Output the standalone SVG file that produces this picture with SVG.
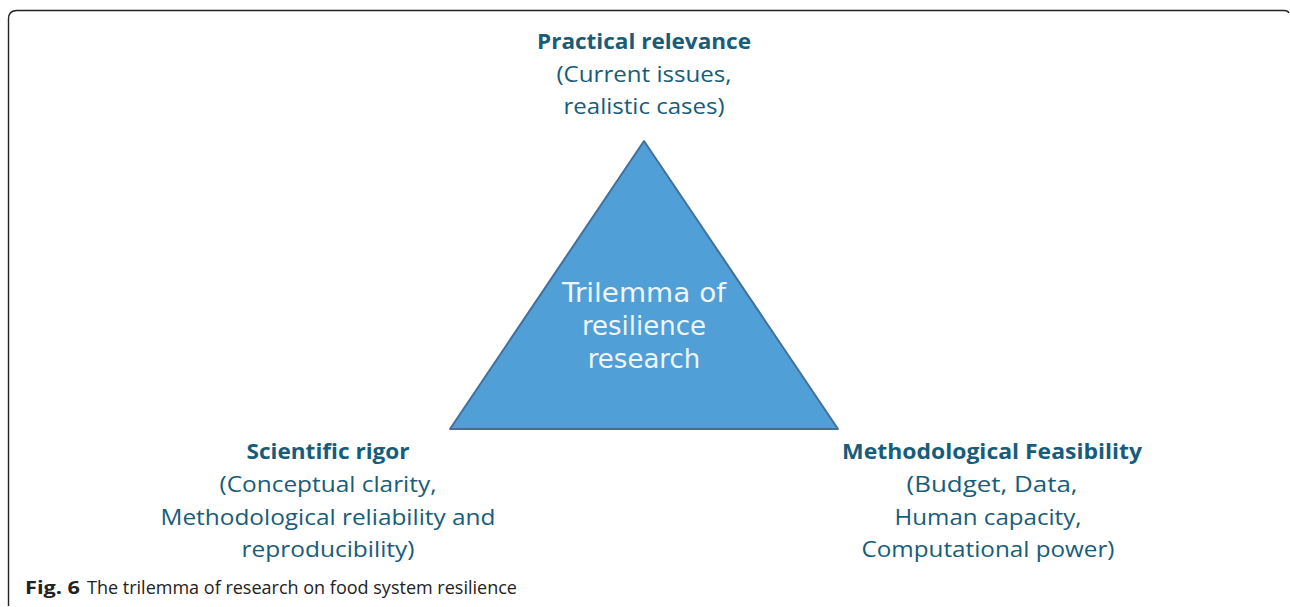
<svg xmlns="http://www.w3.org/2000/svg" width="1290" height="607" viewBox="0 0 1290 607">
<style>
.lbl{font-family:"Open Sans","Liberation Sans",sans-serif;fill:#175c7a;text-anchor:middle;font-size:22px}
.b{font-weight:bold}
.tri{font-family:"DejaVu Sans","Liberation Sans",sans-serif;fill:#eef5fb;text-anchor:middle;font-size:26px}
.cap{font-family:"Open Sans","Liberation Sans",sans-serif;fill:#222;font-size:18px}
</style>
<rect width="1290" height="607" fill="#fff"/>
<path d="M8.5 606 V19 Q8.5 10.5 17 10.5 H1284 Q1288 10.5 1289 13" fill="none" stroke="#222" stroke-width="1.4"/>
<g id="triangle">
<polygon points="644,141 450,429 838,429" fill="#519fd7" stroke="#41719c" stroke-width="2" stroke-linejoin="round"/>
<text class="tri" x="644" y="302" textLength="164" lengthAdjust="spacingAndGlyphs">Trilemma of</text>
<text class="tri" x="644" y="335">resilience</text>
<text class="tri" x="644" y="368">research</text>
</g>
<g id="practical">
<text class="lbl b" x="644" y="49" textLength="214" lengthAdjust="spacingAndGlyphs">Practical relevance</text>
<text class="lbl" x="644" y="82" textLength="175" lengthAdjust="spacingAndGlyphs">(Current issues,</text>
<text class="lbl" x="644" y="114" textLength="161" lengthAdjust="spacingAndGlyphs">realistic cases)</text>
</g>
<g id="scientific">
<text class="lbl b" x="328" y="459" textLength="163" lengthAdjust="spacingAndGlyphs">Scientific rigor</text>
<text class="lbl" x="328" y="492" textLength="217" lengthAdjust="spacingAndGlyphs">(Conceptual clarity,</text>
<text class="lbl" x="328" y="525" textLength="335" lengthAdjust="spacingAndGlyphs">Methodological reliability and</text>
<text class="lbl" x="328" y="557" textLength="173" lengthAdjust="spacingAndGlyphs">reproducibility)</text>
</g>
<g id="feasibility">
<text class="lbl b" x="992" y="459" textLength="300" lengthAdjust="spacingAndGlyphs">Methodological Feasibility</text>
<text class="lbl" x="992" y="492" textLength="171" lengthAdjust="spacingAndGlyphs">(Budget, Data,</text>
<text class="lbl" x="988" y="525" textLength="187" lengthAdjust="spacingAndGlyphs">Human capacity,</text>
<text class="lbl" x="988" y="557" textLength="253" lengthAdjust="spacingAndGlyphs">Computational power)</text>
</g>
<g id="connectors"></g>
<g id="caption">
<text class="cap" x="25" y="594"><tspan font-weight="bold" textLength="55" lengthAdjust="spacingAndGlyphs">Fig. 6</tspan></text>
<text class="cap" x="87" y="594" textLength="430" lengthAdjust="spacingAndGlyphs">The trilemma of research on food system resilience</text>
</g>
</svg>
